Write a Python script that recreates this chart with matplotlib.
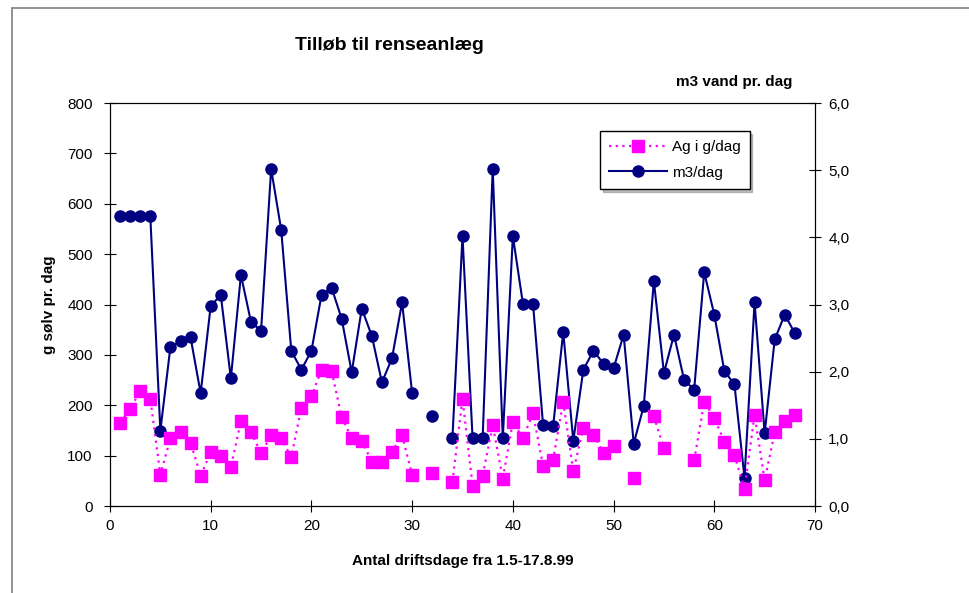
import numpy as np
import matplotlib.pyplot as plt
from matplotlib.patches import Rectangle

plt.rcParams['font.family'] = ['Liberation Sans', 'DejaVu Sans']

nan = np.nan
days = list(range(1, 69))

# g silver per day (left axis)
ag = [165, 192, 229, 213, 62, 134, 146, 126, 60, 107, 100, 77, 169, 146, 105, 140, 134, 97,
      195, 218, 270, 268, 177, 134, 129, 88, 88, 108, 140, 62, nan, 65, nan, 48, 213, 40,
      60, 161, 54, 167, 135, 184, 80, 92, 207, 69, 155, 141, 106, 120, nan, 56, nan, 178,
      115, nan, nan, 91, 206, 175, 128, 101, 34, 181, 51, 146, 169, 181]

# m3 water per day (right axis)
m3 = [4.32, 4.32, 4.32, 4.32, 1.12, 2.37, 2.45, 2.51, 1.68, 2.98, 3.14, 1.90, 3.44, 2.74, 2.61,
      5.02, 4.11, 2.31, 2.03, 2.31, 3.14, 3.25, 2.79, 1.99, 2.94, 2.53, 1.84, 2.20, 3.03, 1.68,
      nan, 1.34, nan, 1.01, 4.02, 1.01, 1.01, 5.02, 1.01, 4.02, 3.01, 3.01, 1.21, 1.19, 2.59,
      0.97, 2.03, 2.31, 2.12, 2.05, 2.55, 0.93, 1.49, 3.35, 1.98, 2.55, 1.88, 1.73, 3.48, 2.85,
      2.01, 1.81, 0.42, 3.03, 1.08, 2.48, 2.85, 2.57]

fig = plt.figure(figsize=(9.69, 5.93), dpi=100)
fig.patches.append(Rectangle((12 / 969, -0.1), 1.2, 1.1 - 8 / 593, transform=fig.transFigure,
                             fill=False, edgecolor='#808080', linewidth=1.2))

ax = fig.add_axes([110 / 969, 1 - 506 / 593, 705 / 969, 403 / 593])
ax2 = ax.twinx()
ax.set_zorder(ax2.get_zorder() + 1)
ax.patch.set_visible(False)

l2, = ax2.plot(days, m3, color='#000080', linewidth=1.5, marker='o', markersize=8,
               label='m3/dag')
l1, = ax.plot(days, ag, color='#FF00FF', linewidth=1.6, linestyle=(0, (1, 2)), marker='s',
              markersize=8, label='Ag i g/dag')

ax.set_xlim(0, 70)
ax.set_ylim(0, 800)
ax2.set_ylim(0, 6)
ax.set_xticks(range(0, 71, 10))
ax.set_yticks(range(0, 801, 100))
ax2.set_yticks(range(0, 7))
ax2.set_yticklabels([f'{v},0' for v in range(0, 7)])

ax.tick_params(axis='y', direction='inout', length=9, labelsize=11, pad=8)
ax.tick_params(axis='x', direction='inout', length=9, labelsize=11, pad=5)
ax2.tick_params(axis='y', direction='inout', length=9, labelsize=11, pad=5)

ax.set_xlabel('Antal driftsdage fra 1.5-17.8.99', fontweight='bold', fontsize=11, labelpad=15)
ax.set_ylabel('g sølv pr. dag', fontweight='bold', fontsize=11, labelpad=8)
fig.text(389 / 969, 1 - 45 / 593, 'Tilløb til renseanlæg', fontweight='bold', fontsize=14,
         ha='center', va='center')
fig.text(792 / 969, 1 - 82 / 593, 'm3 vand pr. dag', fontweight='bold', fontsize=11,
         ha='right', va='center')

leg = ax.legend([l1, l2], ['Ag i g/dag', 'm3/dag'], loc='upper left',
                bbox_to_anchor=(0.695, 0.9305), borderaxespad=0, fancybox=False,
                edgecolor='black', framealpha=1, fontsize=11, handlelength=3.8,
                handletextpad=0.3, labelspacing=0.75, borderpad=0.6,
                shadow={'ox': 2, 'oy': -2, 'color': '#808080'})
leg.get_frame().set_linewidth(1.0)

fig.savefig('out.png', dpi=100)
